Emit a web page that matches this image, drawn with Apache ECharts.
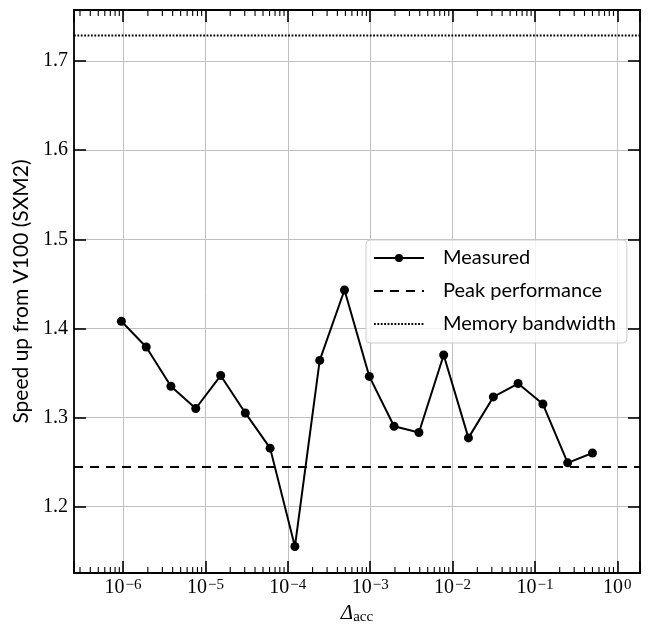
<!DOCTYPE html>
<html><head><meta charset="utf-8">
<script src="https://cdn.jsdelivr.net/npm/echarts@6/dist/echarts.min.js"></script>
<style>html,body{margin:0;padding:0;background:#fff}#c{width:648px;height:630px}</style>
</head><body><div id="c"></div>
<script>
// ---- data ----
const deltaAcc = [9.54e-7, 1.91e-6, 3.81e-6, 7.63e-6, 1.53e-5, 3.05e-5, 6.10e-5, 1.22e-4, 2.44e-4, 4.88e-4,
                  9.77e-4, 1.95e-3, 3.91e-3, 7.81e-3, 1.56e-2, 3.13e-2, 6.25e-2, 0.125, 0.25, 0.5];
const speedup  = [1.408, 1.379, 1.335, 1.310, 1.347, 1.305, 1.2655, 1.155, 1.364, 1.443,
                  1.346, 1.290, 1.283, 1.370, 1.277, 1.323, 1.338, 1.315, 1.249, 1.260];
const peakPerformance = 1.2443;
const memoryBandwidth = 1.7287;
const xRange = [2.537e-7, 1.888];
const yRange = [1.1253, 1.7574];
const seriesNames = ['Measured', 'Peak performance', 'Memory bandwidth'];
const yAxisTitle = 'Speed up from V100 (SXM2)';
const xAxisTitleSymbol = 'Δ';
const xAxisTitleSub = 'acc';
const minorMultipliers = [2, 3, 4, 5, 6, 7, 8, 9];
const minorDecades = [-7, -6, -5, -4, -3, -2, -1, 0];

// ---- helpers ----
const minorTicks = [];
minorDecades.forEach(d => minorMultipliers.forEach(m => {
  const v = m * Math.pow(10, d);
  if (v > xRange[0] && v < xRange[1]) minorTicks.push([v, yRange[0]]);
}));
function xLabel(v) {
  const l = Math.log10(v), e = Math.round(l);
  if (Math.abs(l - e) > 1e-6) return '';
  return '{b|10}{s|' + (e < 0 ? '\u2212' + (-e) : String(e)) + '}';
}
function yLabel(v) {
  if (Math.abs(v * 10 - Math.round(v * 10)) > 1e-6) return '';
  return v.toFixed(1);
}
const serif = 'Liberation Serif';
const sans = 'Lato';
const axisLineStyle = { color: '#000', width: 1.8 };
const gridLine = { show: true, lineStyle: { color: '#c0c0c0', width: 1 } };
const majorTick = { show: true, inside: true, length: 12, lineStyle: { color: '#000', width: 1.6 } };

const chart = echarts.init(document.getElementById('c'), null, { renderer: 'canvas' });
chart.setOption({
  animation: false,
  backgroundColor: '#fff',
  grid: { left: 74, right: 8, top: 10, bottom: 54, containLabel: false },
  xAxis: [{
    type: 'log', logBase: 10, min: xRange[0], max: xRange[1], position: 'bottom', splitNumber: 5,
    axisLine: { show: true, onZero: false, lineStyle: axisLineStyle },
    axisTick: majorTick,
    splitLine: gridLine,
    axisLabel: {
      show: true, margin: 5, formatter: xLabel, hideOverlap: false,
      rich: {
        b: { fontFamily: serif, fontSize: 20, lineHeight: 20, color: '#000', verticalAlign: 'bottom' },
        s: { fontFamily: serif, fontSize: 15, lineHeight: 10, color: '#000', verticalAlign: 'top', padding: [0, 0, 0, 1] }
      }
    },
    name: '{d|' + xAxisTitleSymbol + '}{s|' + xAxisTitleSub + '}',
    nameLocation: 'middle', nameGap: 30,
    nameTextStyle: {
      rich: {
        d: { fontFamily: serif, fontStyle: 'italic', fontSize: 21, lineHeight: 22, color: '#000', verticalAlign: 'top' },
        s: { fontFamily: serif, fontSize: 15, lineHeight: 15, color: '#000', verticalAlign: 'bottom' }
      }
    }
  }, {
    type: 'log', logBase: 10, min: xRange[0], max: xRange[1], position: 'top', splitNumber: 5,
    axisLine: { show: true, onZero: false, lineStyle: axisLineStyle },
    axisTick: majorTick,
    splitLine: { show: false },
    axisLabel: { show: false }
  }],
  yAxis: [{
    type: 'value', min: yRange[0], max: yRange[1], position: 'left', splitNumber: 5,
    axisLine: { show: true, onZero: false, lineStyle: axisLineStyle },
    axisTick: majorTick,
    splitLine: gridLine,
    axisLabel: { formatter: yLabel, margin: 6, fontFamily: serif, fontSize: 20, color: '#000' },
    name: yAxisTitle, nameLocation: 'middle', nameGap: 39, nameRotate: 90,
    nameTextStyle: { fontFamily: sans, fontSize: 21, color: '#000' }
  }, {
    type: 'value', min: yRange[0], max: yRange[1], position: 'right', splitNumber: 5,
    axisLine: { show: true, onZero: false, lineStyle: axisLineStyle },
    axisTick: majorTick,
    splitLine: { show: false },
    axisLabel: { show: false }
  }],
  legend: {
    data: [
      { name: seriesNames[0] },
      { name: seriesNames[1], itemStyle: { opacity: 0 } },
      { name: seriesNames[2], itemStyle: { opacity: 0 } }
    ],
    orient: 'vertical', left: 366, top: 240,
    itemWidth: 50, itemHeight: 10, itemGap: 13,
    padding: [8, 11, 9, 7],
    backgroundColor: 'rgba(255,255,255,0.8)', borderColor: '#cccccc', borderWidth: 1, borderRadius: 4,
    textStyle: { fontFamily: sans, fontSize: 20, lineHeight: 20, color: '#000', padding: [0, 0, 0, 14] }
  },
  series: [{
    name: seriesNames[1], type: 'line', xAxisIndex: 0, yAxisIndex: 0,
    data: [[xRange[0], peakPerformance], [xRange[1], peakPerformance]],
    symbol: 'none', itemStyle: { color: 'rgba(0,0,0,0)' },
    lineStyle: { color: '#000', width: 2, type: [9, 7] }, z: 3
  }, {
    name: seriesNames[2], type: 'line', xAxisIndex: 0, yAxisIndex: 0,
    data: [[xRange[0], memoryBandwidth], [xRange[1], memoryBandwidth]],
    symbol: 'none', itemStyle: { color: 'rgba(0,0,0,0)' },
    lineStyle: { color: '#000', width: 1.9, type: [1.8, 1.6] }, z: 3
  }, {
    name: seriesNames[0], type: 'line', xAxisIndex: 0, yAxisIndex: 0,
    data: deltaAcc.map((x, i) => [x, speedup[i]]),
    symbol: 'circle', symbolSize: 9, showSymbol: true,
    itemStyle: { color: '#000' }, lineStyle: { color: '#000', width: 2 }, z: 4
  }, {
    name: 'minor', type: 'custom', xAxisIndex: 0, yAxisIndex: 0, silent: true, z: 5,
    data: minorTicks,
    renderItem: function (params, api) {
      const x = api.coord([api.value(0), api.value(1)])[0];
      const cs = params.coordSys;
      const st = { stroke: '#000', lineWidth: 1.1 };
      return { type: 'group', children: [
        { type: 'line', shape: { x1: x, y1: cs.y + cs.height, x2: x, y2: cs.y + cs.height - 6 }, style: st },
        { type: 'line', shape: { x1: x, y1: cs.y, x2: x, y2: cs.y + 6 }, style: st }
      ] };
    }
  }]
});
</script></body></html>
